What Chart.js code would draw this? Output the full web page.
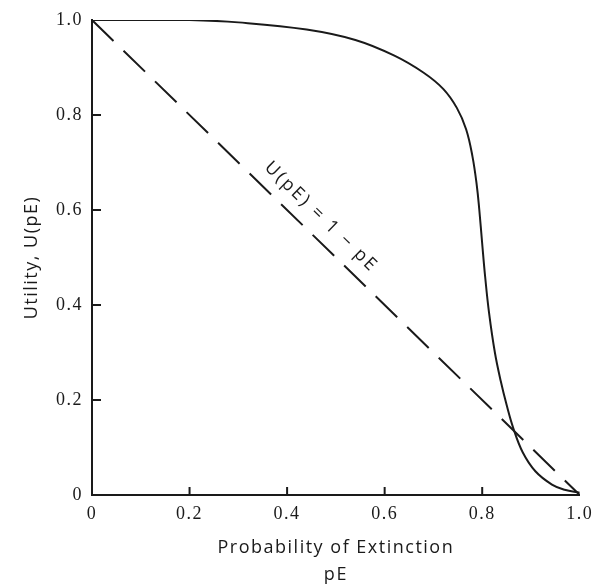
<!DOCTYPE html>
<html>
<head>
<meta charset="utf-8">
<script src="https://cdn.jsdelivr.net/npm/chart.js@4/dist/chart.umd.min.js"></script>
<style>
  html, body { margin: 0; padding: 0; background: #fff; }
  #wrap { width: 599px; height: 584px; }
</style>
</head>
<body>
<div id="wrap"><canvas id="chart" width="599" height="584"></canvas></div>
<script>
// utility curve
const pE = [0, 0.1, 0.2, 0.3, 0.44, 0.54, 0.62, 0.68, 0.72, 0.748, 0.767, 0.78, 0.789, 0.794, 0.8, 0.806, 0.814, 0.826, 0.838, 0.85, 0.864, 0.883, 0.909, 0.943, 0.969, 1.0]
const utility = [1.0, 1.0, 1.0, 0.995, 0.98, 0.958, 0.925, 0.889, 0.855, 0.815, 0.77, 0.713, 0.651, 0.601, 0.529, 0.46, 0.384, 0.3, 0.24, 0.19, 0.14, 0.09, 0.05, 0.022, 0.011, 0.005]

// reference line U(pE) = 1 - pE
const lineX = [0, 1]
const lineY = [1, 0]

const xTickLabels = ['0', '0.2', '0.4', '0.6', '0.8', '1.0']
const yTickLabels = ['0', '0.2', '0.4', '0.6', '0.8', '1.0']
const tickMarks = [0.2, 0.4, 0.6, 0.8]

const lineLabel = 'U(pE) = 1 − pE'
const lineLabelAt = {x: 0.47, y: 0.585}

const toPoints = (xs, ys) => xs.map((x, i) => ({x, y: ys[i]}))

const ink = '#1a1a1a'
const serif = "'Liberation Serif', 'DejaVu Serif', serif"
const sans = "'Open Sans', 'DejaVu Sans', sans-serif"

// the scanned lettering is widely spaced
const spacing = {
    id: 'spacing',
    beforeDraw(chart) {
        chart.ctx.letterSpacing = '1.5px'
    }
}

// inward tick marks and the label along the dashed line
const extras = {
    id: 'extras',
    afterDraw(chart) {
        const {ctx, scales: {x, y}} = chart
        ctx.save()
        ctx.strokeStyle = ink
        ctx.lineWidth = 2
        tickMarks.forEach(v => {
            const py = y.getPixelForValue(v)
            ctx.beginPath()
            ctx.moveTo(x.left, py)
            ctx.lineTo(x.left + 9, py)
            ctx.stroke()
            const px = x.getPixelForValue(v)
            ctx.beginPath()
            ctx.moveTo(px, y.bottom)
            ctx.lineTo(px, y.bottom - 8)
            ctx.stroke()
        })

        const angle = Math.atan2(
            y.getPixelForValue(lineY[1]) - y.getPixelForValue(lineY[0]),
            x.getPixelForValue(lineX[1]) - x.getPixelForValue(lineX[0]))
        ctx.translate(x.getPixelForValue(lineLabelAt.x), y.getPixelForValue(lineLabelAt.y))
        ctx.rotate(angle)
        ctx.fillStyle = ink
        ctx.font = `18px ${sans}`
        ctx.letterSpacing = '2.5px'
        ctx.textAlign = 'center'
        ctx.textBaseline = 'middle'
        ctx.fillText(lineLabel, 0, 0)
        ctx.restore()
    }
}

new Chart(document.getElementById('chart').getContext('2d'), {
    type: 'scatter',
    data: {
        datasets: [
            {
                data: toPoints(pE, utility),
                showLine: true,
                borderColor: ink,
                borderWidth: 2,
                pointRadius: 0,
                tension: 0.4,
                fill: false
            },
            {
                data: toPoints(lineX, lineY),
                showLine: true,
                borderColor: ink,
                borderWidth: 2,
                borderDash: [30, 14],
                pointRadius: 0,
                fill: false
            }
        ]
    },
    options: {
        responsive: false,
        animation: false,
        events: [],
        layout: {padding: {top: 20, right: 14, left: 0, bottom: 0}},
        plugins: {legend: {display: false}, tooltip: {enabled: false}},
        scales: {
            x: {
                type: 'linear',
                min: 0,
                max: 1,
                afterFit: scale => { scale.height = 89 },
                grid: {display: false, drawTicks: false},
                border: {display: true, color: ink, width: 2},
                ticks: {
                    stepSize: 0.2,
                    padding: 8,
                    color: ink,
                    font: {family: serif, size: 18},
                    maxRotation: 0,
                    callback: (v, i) => xTickLabels[i]
                },
                title: {
                    display: true,
                    text: ['Probability of Extinction', 'pE'],
                    color: ink,
                    font: {family: sans, size: 18, lineHeight: '27px'},
                    padding: {top: 0, bottom: -4}
                }
            },
            y: {
                type: 'linear',
                min: 0,
                max: 1,
                afterFit: scale => { scale.width = 92 },
                grid: {display: false, drawTicks: false},
                border: {display: true, color: ink, width: 2},
                ticks: {
                    stepSize: 0.2,
                    padding: 9,
                    color: ink,
                    font: {family: serif, size: 18},
                    callback: (v, i) => yTickLabels[i]
                },
                title: {
                    display: true,
                    text: 'Utility, U(pE)',
                    color: ink,
                    font: {family: sans, size: 18},
                    padding: {top: 21, bottom: 0}
                }
            }
        }
    },
    plugins: [spacing, extras]
})
</script>
</body>
</html>
